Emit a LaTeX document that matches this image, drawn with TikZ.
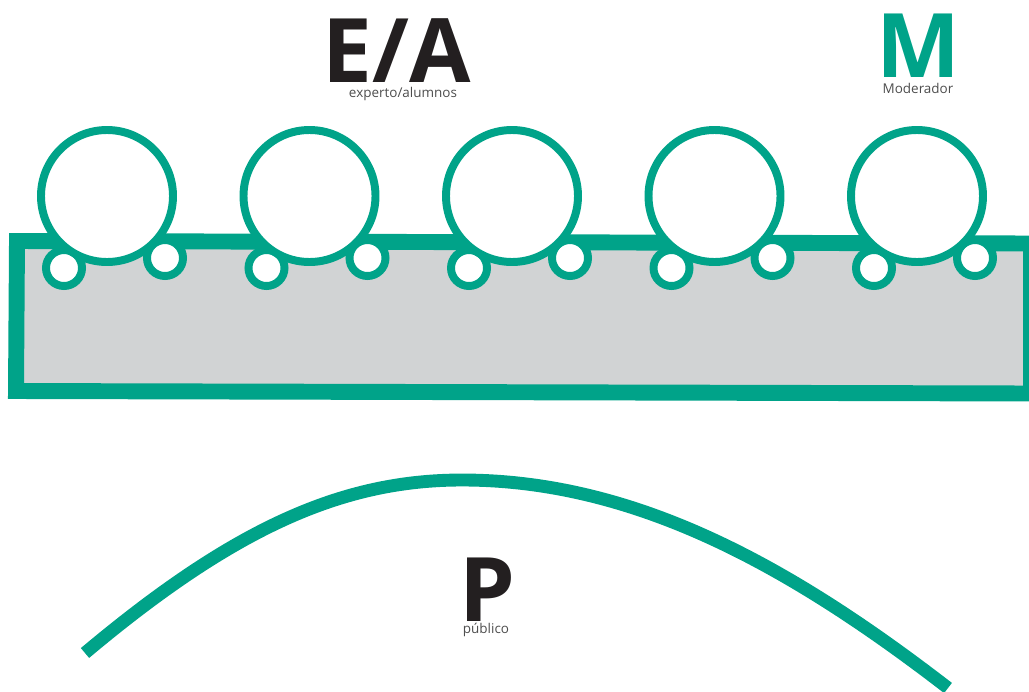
\documentclass[tikz,border=0pt]{standalone}
\usepackage{fontspec}
\setmainfont{Open Sans}
\usepackage{tikz}
\usetikzlibrary{positioning}
\definecolor{mesagreen}{HTML}{00A389}
\definecolor{mesagray}{HTML}{D1D3D4}
\definecolor{mesadark}{HTML}{231F20}
\definecolor{mesatext}{HTML}{4D4D4D}

\begin{document}
\begin{tikzpicture}[x=0.03cm,y=-0.03cm,
    seat/.style={draw=mesagreen,fill=white,circle,line width=6.8pt,minimum size=3.96cm,inner sep=0pt},
    stool/.style={draw=mesagreen,fill=white,circle,line width=6.8pt,minimum size=1.08cm,inner sep=0pt},
    bigletter/.style={font=\fontsize{76}{76}\selectfont\bfseries,inner sep=0pt,anchor=base,text depth=0pt},
    caption/.style={font=\fontsize{11.5}{12}\selectfont,text=mesatext,inner sep=0pt,anchor=base,text height=1.2ex,text depth=0.2ex}]
        \useasboundingbox (0,0) rectangle (1029,691);
        \draw[mesagreen,fill=mesagray,line width=13.6pt] (17,241) -- (1031,243.5) -- (1031,393.5) -- (16,391) -- cycle;
        \foreach \x [count=\i] in {107,309.5,512,714.5,917} {
          \node[stool] (left\i) at (\x-43,268) {};
          \node[stool] (right\i) at (\x+58,258) {};
          \node[seat] (seat\i) at (\x,196) {};
        }
        \node[bigletter,text=mesadark] (ea) at (397,82) {E/A};
        \node[caption] (eatext) at (403,97.5) {experto/alumnos};
        \node[bigletter,text=mesagreen] (m) at (918,77) {M};
        \node[caption] (mtext) at (918,93.5) {Moderador};
        \node[bigletter,text=mesadark] (p) at (487,621) {P};
        \node[caption] (ptext) at (486,633.5) {público};
        \draw[mesagreen,line width=11pt] (85,653) .. controls (235,527) and (343,480) .. (462,480)
          .. controls (635,480) and (790,566) .. (948,688);
      \end{tikzpicture}
\end{document}
